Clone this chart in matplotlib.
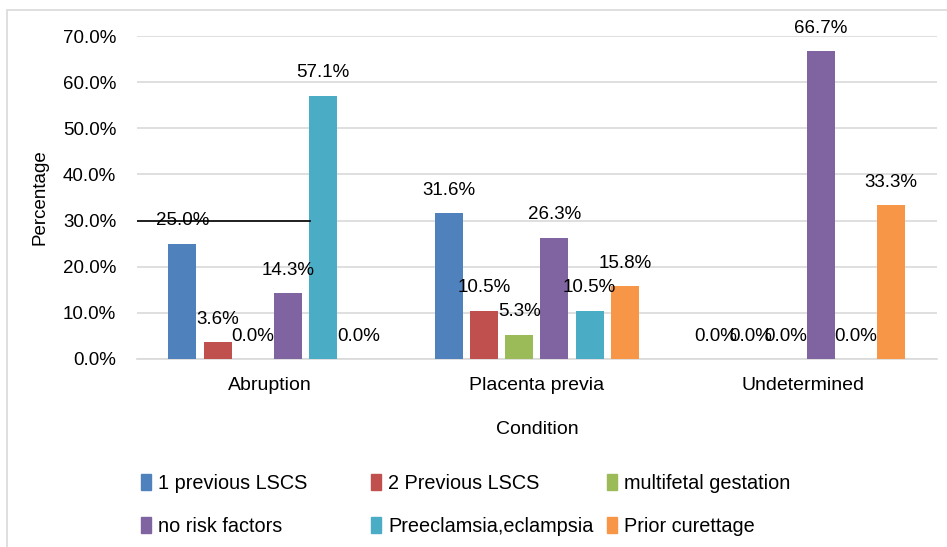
import matplotlib
matplotlib.use("Agg")
import matplotlib.pyplot as plt
from matplotlib.patches import Rectangle, Patch
import numpy as np

plt.rcParams['font.family'] = ['Liberation Sans', 'DejaVu Sans']

# data
conditions = ["Abruption", "Placenta previa", "Undetermined"]
series_names = ["1 previous LSCS", "2 Previous LSCS", "multifetal gestation",
                "no risk factors", "Preeclamsia,eclampsia", "Prior curettage"]
prev_lscs_1 = [25.0, 31.6, 0.0]
prev_lscs_2 = [3.6, 10.5, 0.0]
multifetal = [0.0, 5.3, 0.0]
no_risk = [14.3, 26.3, 66.7]
preeclampsia = [57.1, 10.5, 0.0]
prior_curettage = [0.0, 15.8, 33.3]
yticks = [0, 10, 20, 30, 40, 50, 60, 70]

series = [prev_lscs_1, prev_lscs_2, multifetal, no_risk, preeclampsia, prior_curettage]
colors = ["#4F81BD", "#C0504D", "#9BBB59", "#8064A2", "#4BACC6", "#F79646"]

fig = plt.figure(figsize=(9.47, 5.47), dpi=100)
ax = fig.add_axes([0.1447, 0.3437, 0.8443, 0.5903])

# light frame around the chart (only top/left visible in the original)
fig.patches.append(Rectangle((7 / 947, -0.1), 1.2, 1 - 10 / 547 + 0.1,
                             transform=fig.transFigure, fill=False,
                             edgecolor="#D9D9D9", linewidth=1.2))

x = np.arange(len(conditions))
step = 0.132
width = 0.105
for i, (vals, col) in enumerate(zip(series, colors)):
    pos = x + (i - 2.5) * step
    ax.bar(pos, vals, width=width, color=col, zorder=3)
    for p, v in zip(pos, vals):
        ax.annotate(f"{v:.1f}%", (p, v), xytext=(0, 16.5), textcoords="offset points",
                    ha="center", va="center", fontsize=13.5, color="black", zorder=4)

ax.set_xlim(-0.5, 2.5)
ax.set_ylim(0, 70)
ax.set_yticks(yticks)
ax.set_yticklabels([f"{t:.1f}%" for t in yticks], fontsize=13.5)
ax.set_xticks(x)
ax.set_xticklabels(conditions, fontsize=14)
ax.tick_params(axis="both", length=0)
ax.tick_params(axis="x", pad=13)
ax.tick_params(axis="y", pad=15)
ax.grid(axis="y", color="#D9D9D9", linewidth=1.2, zorder=0)
for s in ["top", "right", "left"]:
    ax.spines[s].set_visible(False)
ax.spines["bottom"].set_color("#D9D9D9")
ax.spines["bottom"].set_linewidth(1.2)

# stray black line drawn over the chart
ax.axhline(30, xmin=0, xmax=0.216, color="black", linewidth=1.2, zorder=5)

ax.set_ylabel("Percentage", fontsize=13.5, labelpad=10)
fig.text(537 / 947, 1 - 430 / 547, "Condition", ha="center", va="center", fontsize=14)

# legend: three columns placed separately
col_x = [141 / 947, 371 / 947, 607 / 947]
for c in range(3):
    hs = [Patch(color=colors[c]), Patch(color=colors[c + 3])]
    ls = [series_names[c], series_names[c + 3]]
    fig.legend(hs, ls, loc="upper left", bbox_to_anchor=(col_x[c], 1 - 474 / 547),
               frameon=False, fontsize=14.3, handlelength=0.5, handleheight=0.85,
               handletextpad=0.35, labelspacing=1.2, borderpad=0, borderaxespad=0)

fig.savefig("out.png", dpi=100)
